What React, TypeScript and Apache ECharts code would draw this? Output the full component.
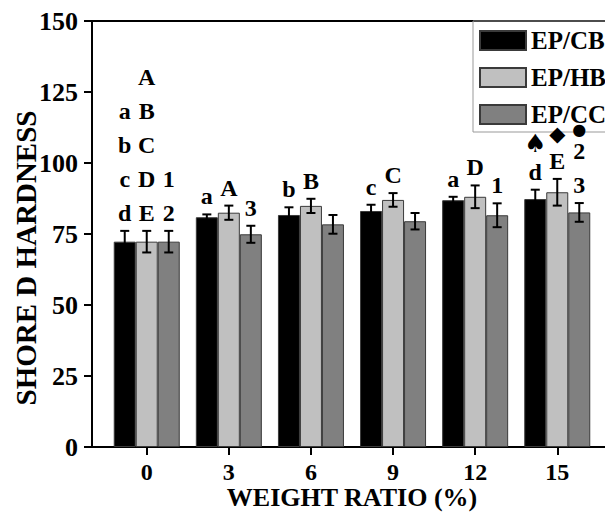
import React, { useEffect, useRef } from 'react';
import * as echarts from 'echarts';

// Filler weight ratio (%) for each group of bars
const weightRatios = [0, 3, 6, 9, 12, 15];

// Shore D hardness, mean and standard deviation
const cbMean = [72.3, 80.9, 81.7, 83.1, 86.9, 87.3];
const cbErr = [3.8, 1.0, 2.7, 2.2, 1.2, 3.3];
const hbMean = [72.3, 82.5, 84.9, 87.0, 88.1, 89.7];
const hbErr = [3.8, 2.5, 2.5, 2.4, 4.0, 4.7];
const ccMean = [72.3, 74.9, 78.4, 79.5, 81.6, 82.6];
const ccErr = [3.8, 3.0, 3.3, 2.9, 4.2, 3.3];

// Significance letters written above each bar (one line per group)
const cbMarks = ['a\nb\nc\nd', 'a', 'b', 'c', 'a', '♠\nd'];
const hbMarks = ['A\nB\nC\nD\nE', 'A', 'B', 'C', 'D', '◆\nE'];
const ccMarks = ['1\n2', '3', '', '', '1', '●\n2\n3'];

const seriesNames = ['EP/CB', 'EP/HB', 'EP/CC'];
const seriesColors = ['#000000', '#c0c0c0', '#808080'];

const SERIF = '"Liberation Serif", "Times New Roman", serif';
const SYMBOL_FONT = '"DejaVu Sans", sans-serif';
const BAR_W = 22;
const LETTER_LINE = 34;

// glyph size and lift (px above the top letter) for each symbol
const symbolStyle: Record<string, { size: number; lift: number }> = {
  '♠': { size: 25, lift: 21 },
  '◆': { size: 21, lift: 20 },
  '●': { size: 16, lift: 15 },
};

function errorSeries(means: number[], errs: number[], marks: string[], shift: number) {
  return {
    type: 'custom',
    z: 5,
    clip: false,
    data: weightRatios.map((x, i) => [x, means[i], errs[i]]),
    encode: { x: 0, y: 1 },
    renderItem: (params: any, api: any) => {
      const x = api.value(0);
      const m = api.value(1);
      const e = api.value(2);
      const hi = api.coord([x, m + e]);
      const lo = api.coord([x, m - e]);
      const cx = hi[0] + shift;
      const line = { stroke: '#000', lineWidth: 2 };
      const cap = 4.5;
      const children: any[] = [
        { type: 'line', shape: { x1: cx, y1: hi[1], x2: cx, y2: lo[1] }, style: line },
        { type: 'line', shape: { x1: cx - cap, y1: hi[1], x2: cx + cap, y2: hi[1] }, style: line },
        { type: 'line', shape: { x1: cx - cap, y1: lo[1], x2: cx + cap, y2: lo[1] }, style: line },
      ];
      const mark = marks[params.dataIndex];
      if (mark) {
        const lines = mark.split('\n');
        const letters = lines.filter((l) => !symbolStyle[l]);
        const symbols = lines.filter((l) => symbolStyle[l]);
        const bottom = hi[1] - 1;
        const blockTop = bottom - LETTER_LINE * letters.length;
        children.push({
          type: 'text',
          x: cx,
          y: bottom,
          style: {
            text: letters.join('\n'),
            align: 'center',
            verticalAlign: 'bottom',
            fontFamily: SERIF,
            fontWeight: 'bold',
            fontSize: 24,
            lineHeight: LETTER_LINE,
            fill: '#000',
          },
        });
        symbols.forEach((s) => {
          const st = symbolStyle[s];
          children.push({
            type: 'text',
            x: cx,
            y: blockTop + 10 - st.lift,
            style: {
              text: s,
              align: 'center',
              verticalAlign: 'middle',
              fontFamily: SYMBOL_FONT,
              fontSize: st.size,
              fill: '#000',
            },
          });
        });
      }
      return { type: 'group', children };
    },
  };
}

export default function App() {
  const ref = useRef<HTMLDivElement>(null);

  useEffect(() => {
    if (!ref.current) return;
    const chart = echarts.init(ref.current, null, { renderer: 'svg' });
    const means = [cbMean, hbMean, ccMean];

    chart.setOption({
      animation: false,
      backgroundColor: '#ffffff',
      grid: {
        left: 92,
        top: 21,
        right: -7,
        bottom: 67,
        outerBoundsMode: 'none',
        show: true,
        borderColor: '#000',
        borderWidth: 2,
        backgroundColor: 'transparent',
      },
      legend: {
        orient: 'vertical',
        left: 473,
        top: 21,
        padding: [7, 20, 5, 6],
        itemWidth: 46,
        itemHeight: 19,
        itemGap: 12,
        icon: 'rect',
        borderColor: '#999',
        borderWidth: 1,
        data: seriesNames,
        textStyle: {
          fontFamily: SERIF,
          fontWeight: 'bold',
          fontSize: 25,
          lineHeight: 19,
          color: '#000',
        },
      },
      xAxis: {
        type: 'value',
        min: -2,
        max: 17,
        name: 'WEIGHT RATIO (%)',
        nameLocation: 'middle',
        nameGap: 39,
        nameMoveOverlap: false,
        nameTextStyle: {
          fontFamily: SERIF,
          fontWeight: 'bold',
          fontSize: 26,
          lineHeight: 22,
          color: '#000',
        },
        axisLine: { show: true, onZero: false, lineStyle: { color: '#000', width: 2 } },
        axisTick: {
          show: true,
          length: 8,
          inside: false,
          customValues: weightRatios,
          lineStyle: { color: '#000', width: 2 },
        },
        axisLabel: {
          customValues: weightRatios,
          margin: 15,
          fontFamily: SERIF,
          fontWeight: 'bold',
          fontSize: 24,
          lineHeight: 20,
          color: '#000',
        },
        splitLine: { show: false },
      },
      yAxis: {
        type: 'value',
        min: 0,
        max: 150,
        interval: 25,
        name: 'SHORE D HARDNESS',
        nameLocation: 'middle',
        nameGap: 52,
        nameMoveOverlap: false,
        nameTextStyle: {
          fontFamily: SERIF,
          fontWeight: 'bold',
          fontSize: 29,
          color: '#000',
          padding: [0, 48, 0, 0],
        },
        axisLine: { show: true, onZero: false, lineStyle: { color: '#000', width: 2 } },
        axisTick: { show: true, length: 8, inside: false, lineStyle: { color: '#000', width: 2 } },
        axisLabel: { margin: 14, fontFamily: SERIF, fontWeight: 'bold', fontSize: 26, color: '#000' },
        splitLine: { show: false },
      },
      series: [
        ...seriesNames.map((name, k) => ({
          type: 'bar',
          name,
          barWidth: BAR_W,
          barGap: '0%',
          data: weightRatios.map((x, i) => [x, means[k][i]]),
          itemStyle: { color: seriesColors[k], borderColor: '#3a3a3a', borderWidth: 1 },
        })),
        errorSeries(cbMean, cbErr, cbMarks, -BAR_W),
        errorSeries(hbMean, hbErr, hbMarks, 0),
        errorSeries(ccMean, ccErr, ccMarks, BAR_W),
      ],
    });

    return () => chart.dispose();
  }, []);

  return (
    <div
      ref={ref}
      style={{ position: 'fixed', left: 0, top: 0, width: 605, height: 514 }}
    />
  );
}
